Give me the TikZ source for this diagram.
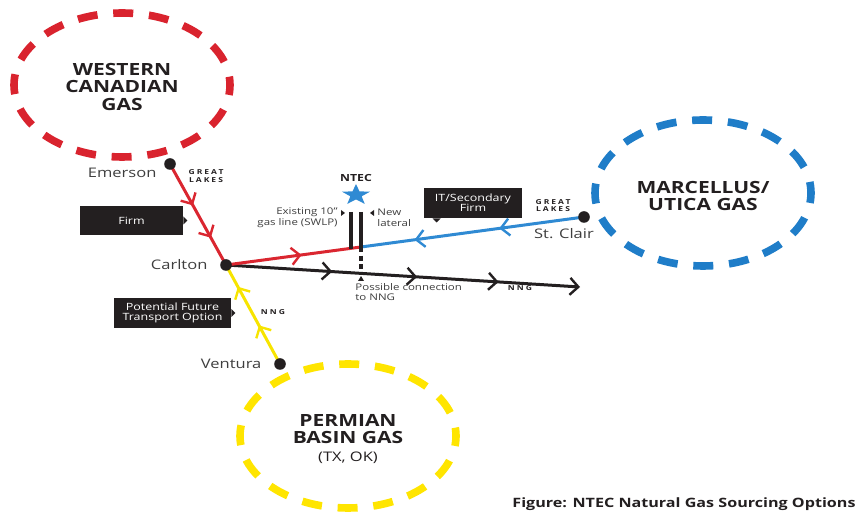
\documentclass[tikz,border=0pt]{standalone}
\usepackage{fontspec}
\setmainfont{Open Sans}[FakeStretch=1.25]
\newfontfamily\tagfont{Open Sans}[FakeStretch=1.25, LetterSpace=30]
\usepackage{xcolor}
\usepackage{tikz}
\usetikzlibrary{arrows.meta, positioning, shapes.geometric, decorations.markings, backgrounds}
\definecolor{Ink}{HTML}{231F20}
\definecolor{Label}{HTML}{3E3E3E}
\definecolor{GasRed}{HTML}{D9232E}
\definecolor{GasBlue}{HTML}{1F7DC8}
\definecolor{GasYellow}{HTML}{FFE500}
\definecolor{PipeRed}{HTML}{DA2630}
\definecolor{PipeBlue}{HTML}{2F8AD3}
\definecolor{PipeYellow}{HTML}{F7E400}

\begin{document}
\begin{tikzpicture}[
  x=0.5pt, y=-0.5pt,
  font=\fontsize{6.6}{7.4}\selectfont, text=Label,
  ring/.style={line width=3.8pt, dash pattern=on 10pt off 7.9pt, dash phase=5pt},
  supply/.style={text=Ink, font=\bfseries\fontsize{8.4}{8.9}\selectfont, align=center},
  hub/.style={circle, fill=Ink, inner sep=0pt, minimum size=5.8pt},
  place/.style={inner sep=1pt},
  tag/.style={font=\tagfont\bfseries\fontsize{3.4}{3.8}\selectfont, text=Ink, align=center, inner sep=0pt},
  callout/.style={fill=Ink, text=white, align=center, inner sep=0pt, font=\fontsize{5}{4.9}\selectfont},
  note/.style={font=\fontsize{4.6}{5.3}\selectfont, inner sep=0pt},
  pipe/.style={line width=1.5pt},
  flow/.style={postaction={decorate, decoration={markings, mark=at position #1 with {\arrow{Straight Barb[length=4.2pt, width=8.5pt, line width=1.2pt]}}}}}
]
\useasboundingbox (0,0) rectangle (862,512);

% supply basins
\draw[ring, GasRed] (122,85) ellipse [x radius=108, y radius=72];
\node[supply] (western) at (122,87) {WESTERN\\CANADIAN\\GAS};
\draw[ring, GasBlue] (703,193) ellipse [x radius=108, y radius=73];
\node[supply] (marcellus) at (703,196) {MARCELLUS/\\UTICA GAS};
\draw[ring, GasYellow] (348,436) ellipse [x radius=108, y radius=72];
\node[supply] (permian) at (348,439) {PERMIAN\\BASIN GAS\\{\mdseries\fontsize{6.6}{8.9}\selectfont (TX, OK)}};

% hubs
\node[hub] (emerson) at (170,164) {};
\node[hub] (carlton) at (226,265) {};
\node[hub] (ventura) at (280,364) {};
\node[hub] (stclair) at (584,217) {};
\node[place, left=2.5pt of emerson, yshift=-4.2pt] {Emerson};
\node[place, left=5pt of carlton] {Carlton};
\node[place, left=5pt of ventura] {Ventura};
\node[place, below=1.5pt of stclair, xshift=-10pt] {St. Clair};

\node[tag] (glwest) at (206,176) {GREAT\\LAKES};
\node[tag] (gleast) at (553,205.5) {GREAT\\LAKES};
\node[tag] (nngeast) at (520,288.5) {NNG};
\node[tag] (nngsouth) at (273,312) {NNG};

% plant and its laterals
\node[star, star points=5, star point ratio=2.5, fill=PipeBlue, inner sep=0pt,
      minimum size=11pt, xscale=1.35, transform shape] (ntec) at (356,195) {};
\node[font=\bfseries\fontsize{4.9}{5}\selectfont, text=Ink, inner sep=0pt] (ntecname) at (356,178) {NTEC};
\coordinate (swlp top) at (351,212);
\coordinate (swlp foot) at (351,249);
\coordinate (lateral top) at (361,212);
\coordinate (ntec tie) at (361,247);
\coordinate (nng tap) at (361,272);
\coordinate (nng end) at (580,287);

\begin{scope}[on background layer]
\draw[pipe, Ink, flow=0.30, flow=0.54, flow=0.77, -{Straight Barb[length=4.2pt, width=8.5pt, line width=1.2pt]}] (carlton.center) -- (nng end);
\draw[pipe, PipeRed, flow=0.41, flow=0.73] (emerson.center) -- (carlton.center);
\draw[pipe, PipeRed, flow=0.56] (carlton.center) -- (ntec tie);
\draw[pipe, PipeBlue, flow=0.38, flow=0.76] (stclair.center) -- (ntec tie);
\draw[pipe, PipeYellow, flow=0.39, flow=0.78] (ventura.center) -- (carlton.center);
\end{scope}

\draw[line width=1.8pt, Ink] (swlp top) -- (swlp foot);
\draw[line width=1.8pt, Ink] (lateral top) -- (ntec tie);
\draw[line width=1.8pt, Ink, dash pattern=on 2.5pt off 1.8pt] (ntec tie) -- (nng tap);
\fill[Ink] (nng tap) ++(-3,9) -- ++(6,0) -- ++(-3,-5) -- cycle;

\node[note, anchor=east, align=right] (swlpnote) at (338,218) {Existing 10”\\gas line (SWLP)};
\fill[Ink] (swlpnote.east) ++(3,-8) -- ++(0,6) -- ++(4,-3) -- cycle;
\node[note, anchor=west, align=left] (lateralnote) at (377,218) {New\\lateral};
\fill[Ink] (lateralnote.west) ++(-3,-8) -- ++(0,6) -- ++(-4,-3) -- cycle;
\node[note, anchor=north west, align=left] (nngnote) at (355,283) {Possible connection\\to NNG};

% contract callouts
\node[callout, minimum width=51.5pt, minimum height=14.5pt] (firm) at (131.5,220.5) {Firm};
\fill[Ink] (firm.east) ++(0,-4) -- ++(4,4) -- ++(-4,4) -- cycle;
\node[callout, minimum width=49pt, minimum height=15pt] (secondary) at (473,203) {IT/Secondary\\Firm};
\fill[Ink] (secondary.south west) ++(9,0) -- ++(8,0) -- ++(-4,4) -- cycle;
\node[callout, minimum width=58.5pt, minimum height=15pt] (future) at (172.5,313) {Potential Future\\Transport Option};
\fill[Ink] (future.east) ++(0,-4) -- ++(4,4) -- ++(-4,4) -- cycle;

\node[anchor=base west, font=\bfseries\fontsize{6.45}{7}\selectfont, text=Ink, inner sep=0pt] (caption) at (512,508) {Figure: NTEC Natural Gas Sourcing Options};
\end{tikzpicture}
\end{document}
